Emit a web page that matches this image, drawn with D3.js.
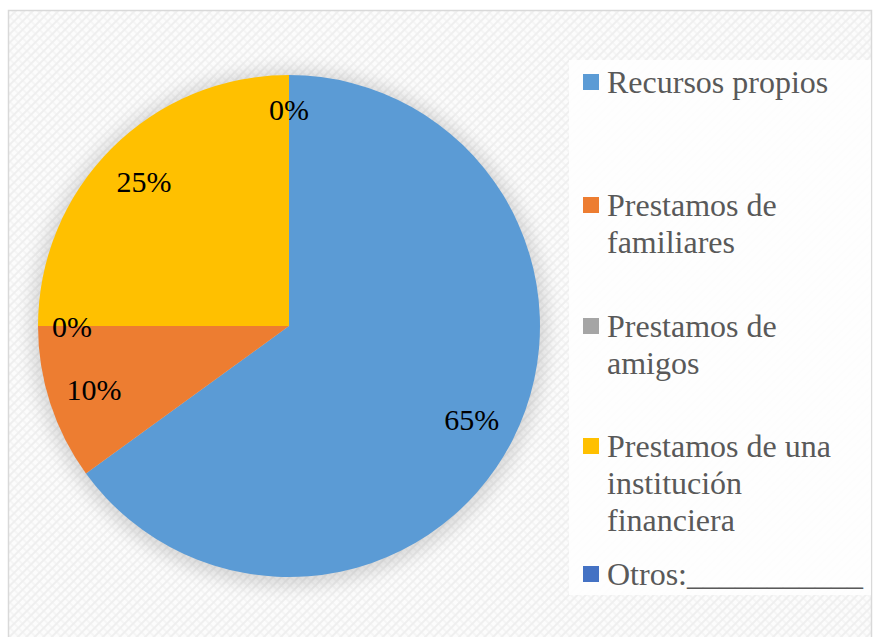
<!DOCTYPE html>
<html>
<head>
<meta charset="utf-8">
<script src="https://cdn.jsdelivr.net/npm/d3@7"></script>
<style>
  body { margin: 0; background: #fff; }
  svg { display: block; }
</style>
</head>
<body>
<div class="chart"></div>
<script>
// data
const categories = ['Recursos propios', 'Prestamos de familiares', 'Prestamos de amigos',
  'Prestamos de una institución financiera', 'Otros:___________'];
const values = [65, 10, 0, 25, 0];
const pctLabels = ['65%', '10%', '0%', '25%', '0%'];
// legend text broken in lines as in the picture
const legendLines = [['Recursos propios'], ['Prestamos de', 'familiares'], ['Prestamos de', 'amigos'],
  ['Prestamos de una', 'institución', 'financiera'], ['Otros:___________']];
const colors = ['#5b9bd5', '#ed7d31', '#a5a5a5', '#ffc000', '#4472c4'];

const width = 876, height = 637;
const cx = 289, cy = 326, radius = 251;
const serif = '"Liberation Serif", "Times New Roman", monospace';

const svg = d3.select('.chart')
  .append('svg')
  .attr('width', width)
  .attr('height', height);

const defs = svg.append('defs');

// diagonal carbon-like background
const pat = defs.append('pattern')
  .attr('id', 'bg')
  .attr('patternUnits', 'userSpaceOnUse')
  .attr('width', 6)
  .attr('height', 6)
  .attr('patternTransform', 'rotate(-45)');
pat.append('rect').attr('width', 6).attr('height', 6).attr('fill', '#fcfcfc');
pat.append('rect').attr('width', 6).attr('height', 2).attr('fill', '#efefef');
pat.append('rect').attr('x', 0).attr('y', 2).attr('width', 2).attr('height', 4).attr('fill', '#f5f5f5');

const blur = defs.append('filter')
  .attr('id', 'glow')
  .attr('x', '-20%').attr('y', '-20%')
  .attr('width', '140%').attr('height', '140%');
blur.append('feGaussianBlur').attr('stdDeviation', 9);

// chart area with border
svg.append('rect')
  .attr('x', 8.5).attr('y', 10.5)
  .attr('width', 863).attr('height', 640)
  .attr('fill', 'url(#bg)')
  .attr('stroke', '#d9d9d9')
  .attr('stroke-width', 1.5);

// soft shadow behind the pie
svg.append('circle')
  .attr('cx', cx).attr('cy', cy + 2)
  .attr('r', radius + 7)
  .attr('fill', '#000')
  .attr('opacity', 0.14)
  .attr('filter', 'url(#glow)');

const pie = d3.pie().sort(null).value(d => d);
const arcs = pie(values);
const arc = d3.arc().innerRadius(0).outerRadius(radius);

const graph = svg.append('g')
  .attr('transform', `translate(${cx}, ${cy})`);

graph.selectAll('path')
  .data(arcs)
  .enter()
  .append('path')
  .attr('d', arc)
  .attr('fill', (d, i) => colors[i]);

// data labels sit along each slice's mid angle; empty slices sit a bit further out
const labelArc = d => {
  const r = d.value > 0 ? 205 : 217;
  return d3.arc().innerRadius(r).outerRadius(r).centroid(d);
};

graph.selectAll('text.pct')
  .data(arcs)
  .enter()
  .append('text')
  .attr('class', 'pct')
  .attr('x', d => labelArc(d)[0])
  .attr('y', d => labelArc(d)[1])
  .attr('dy', '0.35em')
  .attr('text-anchor', 'middle')
  .attr('font-size', 30)
  .attr('fill', '#000')
  .style('font-family', serif)
  .text((d, i) => pctLabels[i]);

// legend
svg.append('rect')
  .attr('x', 569).attr('y', 60)
  .attr('width', 302).attr('height', 535)
  .attr('fill', '#fefefe')
  .attr('opacity', 0.92);

const legendY = [82, 205, 326, 446, 574];
const lineH = 37;

const items = svg.append('g').attr('class', 'legend')
  .selectAll('g')
  .data(categories)
  .enter()
  .append('g')
  .attr('transform', (d, i) => `translate(583, ${legendY[i]})`);

items.append('rect')
  .attr('x', 0).attr('y', -8)
  .attr('width', 16).attr('height', 16)
  .attr('fill', (d, i) => colors[i]);

items.each(function (d, i) {
  const t = d3.select(this).append('text')
    .attr('font-size', 32)
    .attr('fill', '#595959')
    .style('font-family', serif);
  legendLines[i].forEach((line, j) => {
    t.append('tspan')
      .attr('x', 24)
      .attr('y', j * lineH)
      .attr('dy', '0.35em')
      .text(line);
  });
});
</script>
</body>
</html>
